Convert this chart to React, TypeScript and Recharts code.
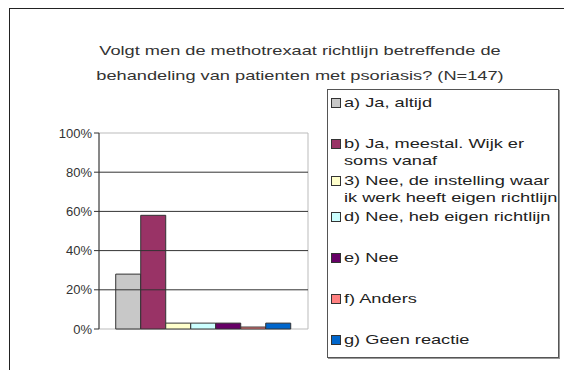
import { Bar, BarChart, ReferenceArea, ReferenceLine, XAxis, YAxis } from 'recharts'

// Answers to the methotrexate guideline question, share of respondents (%)
const categories = ['']
const seriesKeys = ['a', 'b', 'c', 'd', 'e', 'f', 'g']
const seriesValues = [28, 58, 3, 3, 3, 1, 3]
const seriesColors = ['#c8c8c8', '#993366', '#ffffcc', '#ccffff', '#660066', '#ff8080', '#0066cc']
const legendLabels = [
  ['a) Ja, altijd'],
  ['b) Ja, meestal. Wijk er', 'soms vanaf'],
  ['3) Nee, de instelling waar', 'ik werk heeft eigen richtlijn'],
  ['d) Nee, heb eigen richtlijn'],
  ['e) Nee'],
  ['f) Anders'],
  ['g) Geen reactie'],
]
const yTicks = [0, 20, 40, 60, 80, 100]
const gridValues = [20, 40, 60, 80]
const titleLines = [
  'Volgt men de methotrexaat richtlijn betreffende de',
  'behandeling van patienten met psoriasis? (N=147)',
]

const data = categories.map((name) => {
  const row: Record<string, string | number> = { name }
  seriesKeys.forEach((k, i) => {
    row[k] = seriesValues[i]
  })
  return row
})

const FONT = '"Liberation Sans", Arial, sans-serif'
// the title and legend use a wide-set face; stretch a narrow one to match
const WIDE = 'scaleX(1.4)'

function LegendBox() {
  let top = 4
  return (
    <div
      style={{
        position: 'absolute',
        left: 327,
        top: 89,
        width: 230,
        height: 267,
        border: '1px solid #555',
        boxShadow: '1px 1px 0 #999',
        background: '#fff',
        fontFamily: FONT,
        fontSize: 13,
        color: '#222',
      }}
    >
      {legendLabels.map((lines, i) => {
        const y = top
        top += lines.length > 1 ? 36.5 : 41
        return (
          <div key={i} style={{ position: 'absolute', left: 3, top: y, lineHeight: '17px' }}>
            <span
              style={{
                position: 'absolute',
                left: 0,
                top: 4,
                width: 8,
                height: 8,
                border: '1px solid #333',
                background: seriesColors[i],
              }}
            />
            {lines.map((t) => (
              <div
                key={t}
                style={{
                  marginLeft: 13,
                  whiteSpace: 'nowrap',
                  transform: WIDE,
                  transformOrigin: 'left center',
                }}
              >
                {t}
              </div>
            ))}
          </div>
        )
      })}
    </div>
  )
}

export default function App() {
  return (
    <div style={{ position: 'absolute', left: 0, top: 0, width: 564, height: 370, overflow: 'hidden', background: '#fff' }}>
      <div
        style={{
          position: 'absolute',
          left: 9,
          top: 8,
          width: 600,
          height: 400,
          borderLeft: '1px solid #222',
          borderTop: '1px solid #222',
        }}
      />
      <div
        style={{
          position: 'absolute',
          left: 0,
          width: 600,
          top: 38,
          textAlign: 'center',
          fontFamily: FONT,
          fontSize: 13,
          lineHeight: '25px',
          color: '#333',
        }}
      >
        {titleLines.map((t) => (
          <div key={t} style={{ transform: WIDE, transformOrigin: 'center' }}>
            {t}
          </div>
        ))}
      </div>
      <div style={{ position: 'absolute', left: 0, top: 0 }}>
        <BarChart
          width={564}
          height={370}
          data={data}
          margin={{ top: 133, right: 256, bottom: 41, left: 59 }}
          barCategoryGap="8%"
          barGap={0}
        >
          <ReferenceArea y1={0} y2={100} fill="none" stroke="#bbb" strokeWidth={1} />
          {gridValues.map((v) => (
            <ReferenceLine key={v} y={v} stroke="#333" strokeWidth={1} />
          ))}
          <XAxis dataKey="name" hide />
          <YAxis
            width={40}
            domain={[0, 100]}
            ticks={yTicks}
            tickFormatter={(v) => `${v}%`}
            axisLine={{ stroke: '#333' }}
            tickLine={{ stroke: '#333' }}
            tickSize={5}
            tick={{ fill: '#333', fontSize: 13, fontFamily: FONT }}
          />
          {seriesKeys.map((k, i) => (
            <Bar key={k} dataKey={k} fill={seriesColors[i]} stroke="#333" strokeWidth={1} isAnimationActive={false} />
          ))}
        </BarChart>
      </div>
      <LegendBox />
    </div>
  )
}
